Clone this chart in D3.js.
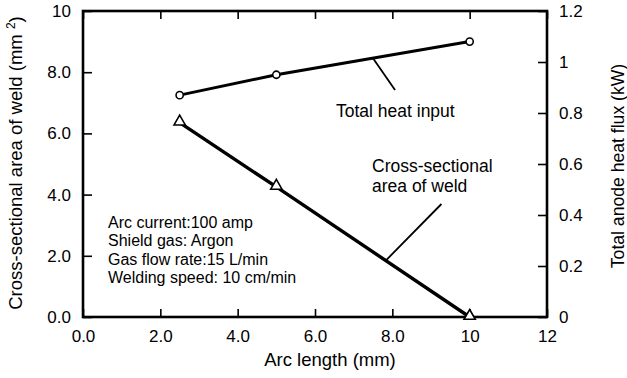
<!DOCTYPE html>
<html>
<head>
<meta charset="utf-8">
<script src="https://cdn.jsdelivr.net/npm/d3@7"></script>
<style>
  body { margin: 0; background: #fff; }
  svg text { font-family: "Liberation Sans", Arial, Helvetica, sans-serif; fill: #000; }
</style>
</head>
<body>
<div id="chart-area"></div>
<script>
// arc length (mm) for the three runs
var arcLength = [2.5, 5, 10];
// total anode heat flux (kW) - right axis
var heatInput = [0.87, 0.95, 1.08];
// cross-sectional area of weld (mm2) - left axis
var crossArea = [6.35, 4.25, 0];

var xTicks = [0, 2, 4, 6, 8, 10, 12];
var yLeftTicks = [0, 2, 4, 6, 8, 10];
var yRightTicks = [0, 0.2, 0.4, 0.6, 0.8, 1, 1.2];

var infoLines = ["Arc current:100 amp", "Shield gas: Argon", "Gas flow rate:15 L/min", "Welding speed: 10 cm/min"];

var W = 627, H = 378;
// plot box (note: "top" is taken by window.top, so use a prefix)
var pLeft = 83, pRight = 547, pTop = 11, pBottom = 317;

var svg = d3.select("#chart-area").append("svg")
    .attr("width", W)
    .attr("height", H);

var x = d3.scaleLinear().domain([0, 12]).range([pLeft, pRight]);
var y = d3.scaleLinear().domain([0, 10]).range([pBottom, pTop]);
var yR = d3.scaleLinear().domain([0, 1.2]).range([pBottom, pTop]);

// axes, ticks pointing inward
var gx = svg.append("g").attr("transform", "translate(0," + pBottom + ")")
    .call(d3.axisBottom(x).tickValues(xTicks).tickSize(-8).tickSizeOuter(0).tickPadding(13)
        .tickFormat(d => d >= 10 ? d3.format("d")(d) : d3.format(".1f")(d)));
var gxt = svg.append("g").attr("transform", "translate(0," + pTop + ")")
    .call(d3.axisTop(x).tickValues(xTicks).tickSize(-8).tickSizeOuter(0).tickFormat(""));
var gy = svg.append("g").attr("transform", "translate(" + pLeft + ",0)")
    .call(d3.axisLeft(y).tickValues(yLeftTicks).tickSize(-9).tickSizeOuter(0).tickPadding(12)
        .tickFormat(d => d >= 10 ? "10" : d3.format(".1f")(d)));
var gyr = svg.append("g").attr("transform", "translate(" + pRight + ",0)")
    .call(d3.axisRight(yR).tickValues(yRightTicks).tickSize(-9).tickSizeOuter(0).tickPadding(12)
        .tickFormat(d => d === 0 ? "0" : d3.format("~g")(d)));

[gx, gxt, gy, gyr].forEach(g => {
    g.select(".domain").remove();
    g.selectAll(".tick line").attr("stroke", "#000").attr("stroke-width", 1.6);
    g.selectAll(".tick text").attr("font-size", 17).attr("font-family", null);
});

// frame
svg.append("rect")
    .attr("x", pLeft).attr("y", pTop)
    .attr("width", pRight - pLeft).attr("height", pBottom - pTop)
    .attr("fill", "none").attr("stroke", "#000").attr("stroke-width", 2.6);

// data lines
var lineHeat = d3.line().x((d, i) => x(arcLength[i])).y(d => yR(d));
var lineArea = d3.line().x((d, i) => x(arcLength[i])).y(d => y(d));

svg.append("path").datum(heatInput)
    .attr("d", lineHeat).attr("fill", "none").attr("stroke", "#000").attr("stroke-width", 3);
svg.append("path").datum(crossArea)
    .attr("d", lineArea).attr("fill", "none").attr("stroke", "#000").attr("stroke-width", 3.4);

svg.selectAll(".heat-pt").data(heatInput).enter().append("circle")
    .attr("class", "heat-pt")
    .attr("cx", (d, i) => x(arcLength[i]))
    .attr("cy", d => yR(d))
    .attr("r", 3.6)
    .attr("fill", "#fff").attr("stroke", "#000").attr("stroke-width", 1.6);

var tri = d3.symbol().type(d3.symbolTriangle).size(55);
svg.selectAll(".area-pt").data(crossArea).enter().append("path")
    .attr("class", "area-pt")
    .attr("d", tri)
    .attr("transform", (d, i) => "translate(" + x(arcLength[i]) + "," + (y(d) - 1) + ")")
    .attr("fill", "#fff").attr("stroke", "#000").attr("stroke-width", 1.6);

// leader lines for labels (from a point on the curve to the label)
function heatAt(a) { return d3.scaleLinear().domain(arcLength.slice(1)).range(heatInput.slice(1))(a); }
function areaAt(a) { return d3.scaleLinear().domain(arcLength.slice(1)).range(crossArea.slice(1))(a); }

svg.append("line")
    .attr("x1", x(7.5)).attr("y1", yR(heatAt(7.5)))
    .attr("x2", x(8.07)).attr("y2", 90)
    .attr("stroke", "#000").attr("stroke-width", 1.8);
svg.append("line")
    .attr("x1", x(7.83)).attr("y1", y(areaAt(7.83)))
    .attr("x2", x(9.27)).attr("y2", 204)
    .attr("stroke", "#000").attr("stroke-width", 1.8);

svg.append("text").attr("x", 336).attr("y", 117).attr("font-size", 17.5).text("Total heat input");
svg.append("text").attr("x", 372).attr("y", 172).attr("font-size", 17.5).text("Cross-sectional");
svg.append("text").attr("x", 372).attr("y", 192).attr("font-size", 17.5).text("area of weld");

// run conditions
svg.selectAll(".info").data(infoLines).enter().append("text")
    .attr("class", "info")
    .attr("x", 108)
    .attr("y", (d, i) => 228 + i * 18.4)
    .attr("font-size", 16)
    .text(d => d);

// axis titles
svg.append("text")
    .attr("x", (pLeft + pRight) / 2 + 15).attr("y", 366)
    .attr("text-anchor", "middle").attr("font-size", 18.5)
    .text("Arc length (mm)");

var yt = svg.append("text")
    .attr("transform", "translate(22,163) rotate(-90)")
    .attr("text-anchor", "middle").attr("font-size", 18.5);
yt.append("tspan").text("Cross-sectional area of weld (mm ");
yt.append("tspan").attr("font-size", 12).attr("dy", -7).text("2");
yt.append("tspan").attr("dy", 7).text(")");

svg.append("text")
    .attr("transform", "translate(624,166) rotate(-90)")
    .attr("text-anchor", "middle").attr("font-size", 17.6)
    .text("Total anode heat flux (kW)");
</script>
</body>
</html>
